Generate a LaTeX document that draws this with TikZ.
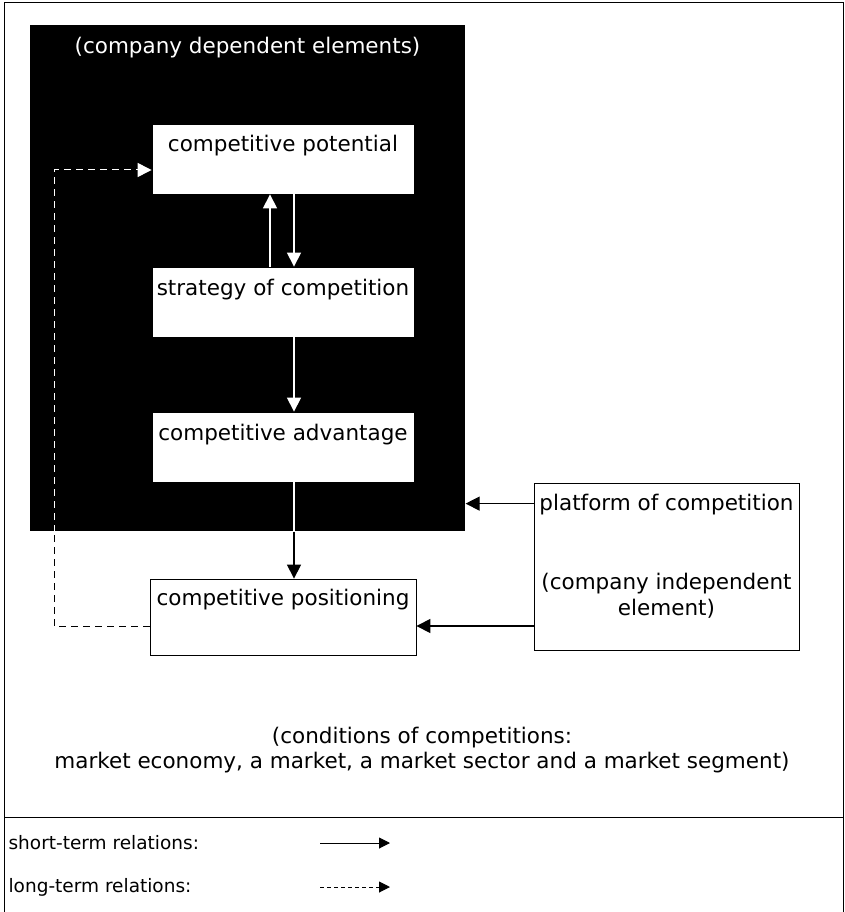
\documentclass[tikz,border=0pt]{standalone}
\usepackage{fontspec}
\setmainfont{DejaVu Sans}
\usetikzlibrary{arrows.meta,positioning}

\def\unitwidth{262pt}
\def\unitheight{70pt}

\begin{document}
\begin{tikzpicture}[x=1pt, y=-1pt, line width=1.2pt, font=\fontsize{21.5}{25}\selectfont]
    \tikzstyle{unit}=[draw=black, line width=0.8pt, fill=white, minimum width=\unitwidth, minimum height=\unitheight, inner sep=0pt, text height=14pt, text depth=28pt]
    \tikzstyle{short}=[-{Triangle[length=14pt,width=14pt]}]
    \tikzstyle{long}=[short, line width=1pt, dash pattern=on 7pt off 5pt]
    \tikzstyle{annot}=[align=center, inner sep=0pt]
    \tikzstyle{legend}=[anchor=west, inner sep=0pt, font=\fontsize{18.5}{22}\selectfont]

    \useasboundingbox (0,0) rectangle (844,912);

    % Draw the frame and the legend divider
    \draw[line width=1pt] (4,3) rectangle (843,912);
    \draw[line width=1pt] (4,817) -- (843,817);

    % Draw the company dependent area
    \node[fill=black, minimum width=435pt, minimum height=506pt, inner sep=0pt] (dep) at (247.5,278) {};
    \node[annot, text=white] (dep-title) at (247.5,48) {(company dependent elements)};

    % Draw the units
    \node[unit] (pot) at (283,159) {competitive potential};
    \node[unit] (str) at (283,302) {strategy of competition};
    \node[unit] (adv) at (283,447) {competitive advantage};
    \node[unit, minimum width=266pt, minimum height=76pt, text depth=38pt] (pos) at (283,617) {competitive positioning};

    % Draw the platform of competition
    \node[unit, minimum width=265pt, minimum height=167pt, text height=0pt, text depth=0pt] (plat) at (666.5,566.5) {};
    \node[annot, below=11pt of plat.north] (plat-name) {platform of competition};
    \node[annot, below=90pt of plat.north, font=\fontsize{21.5}{26}\selectfont] (plat-note) {(company independent\\element)};

    % Annotate the conditions
    \node[annot] (cond) at (422,750) {(conditions of competitions:\\market economy, a market, a market sector and a market segment)};

    % Connect the units inside the dependent area
    \draw[short, white] ([xshift=-13pt]str.north) -- ([xshift=-13pt]pot.south);
    \draw[short, white] ([xshift=11pt]pot.south) -- ([xshift=11pt]str.north);
    \draw[short, white] ([xshift=11pt]str.south) -- ([xshift=11pt]adv.north);

    % Connect the advantage with the positioning
    \coordinate (adv-out) at ([xshift=11pt]adv.south);
    \draw[white] (adv-out) -- (adv-out |- dep.south);
    \draw[short] (adv-out |- dep.south) -- ([xshift=11pt]pos.north);

    % Connect the platform with the dependent area and the positioning
    \coordinate (plat-out) at ([yshift=-21pt]plat.north west);
    \draw[short] (plat-out) -- (plat-out -| dep.east);
    \coordinate (pos-in) at ([yshift=-9pt]pos.east);
    \draw[short] (pos-in -| plat.west) -- (pos-in);

    % Long-term feedback from the positioning to the potential
    \coordinate (loop) at (54,0);
    \coordinate (pos-out) at ([yshift=-9pt]pos.west);
    \coordinate (pot-in) at ([yshift=-11pt]pot.west);
    \draw[line width=1pt, dash pattern=on 7pt off 5pt] (pos-out) -- (pos-out -| loop) -- (loop |- dep.south);
    \draw[long, white] (loop |- dep.south) -- (loop |- pot-in) -- (pot-in);

    % Draw the legend
    \node[legend] (short-label) at (8,843) {short-term relations:};
    \node[legend] (long-label) at (8,887) {long-term relations:};
    \coordinate (short-a) at (320,843);
    \coordinate (short-b) at (390,843);
    \coordinate (long-a) at (320,887);
    \coordinate (long-b) at (390,887);
    \draw[line width=1pt, -{Triangle[length=11pt,width=11pt]}] (short-a) -- (short-b);
    \draw[line width=1pt, dash pattern=on 4pt off 3pt, -{Triangle[length=11pt,width=11pt]}] (long-a) -- (long-b);
\end{tikzpicture}
\end{document}
